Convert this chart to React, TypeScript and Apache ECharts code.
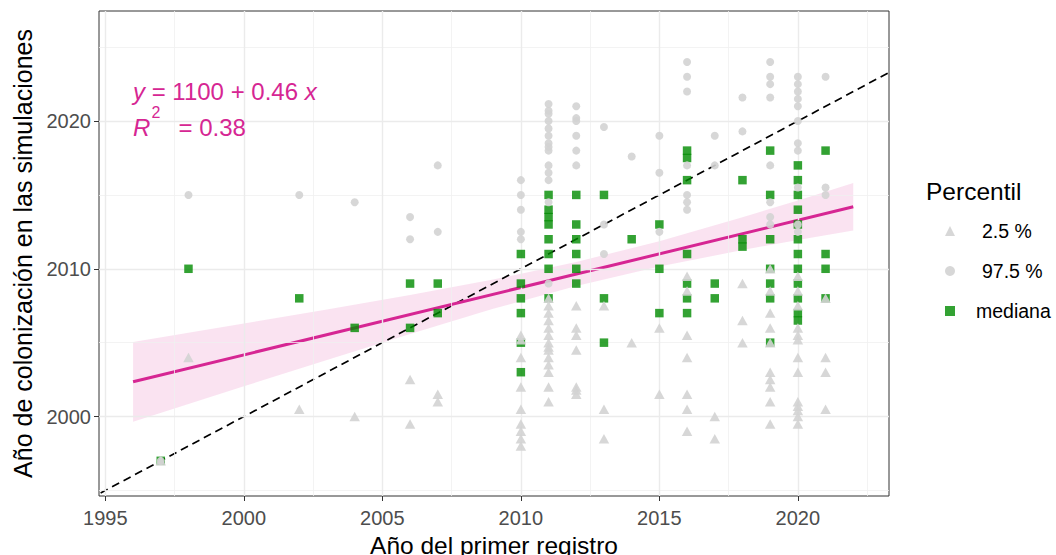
import React, { useEffect, useRef } from "react";
import * as echarts from "echarts";

const FONT = "'Liberation Sans', Arial, Helvetica, sans-serif";
const MAGENTA = "#D62693";
const GREY = "#D3D3D3";
const GREEN = "#008B00";

// axis ticks / grid lines
const xMajor = [1995, 2000, 2005, 2010, 2015, 2020];
const xMinor = [1997.5, 2002.5, 2007.5, 2012.5, 2017.5, 2022.5];
const yMajor = [2000, 2010, 2020];
const yMinor = [1995, 2005, 2015, 2025];

// mediana [year of first record, simulated colonisation year]
const medianPts = [
  [1997, 1997], [1998, 2010], [2002, 2008], [2004, 2006],
  [2006, 2009], [2006, 2006], [2007, 2009], [2007, 2007],
  [2010, 2011], [2010, 2009], [2010, 2008], [2010, 2007], [2010, 2005], [2010, 2003],
  [2011, 2015], [2011, 2014], [2011, 2013.5], [2011, 2013], [2011, 2012], [2011, 2011], [2011, 2010], [2011, 2008],
  [2012, 2015], [2012, 2013], [2012, 2012], [2012, 2011], [2012, 2010], [2012, 2009],
  [2013, 2015], [2013, 2008], [2013, 2005],
  [2014, 2012],
  [2015, 2013], [2015, 2010], [2015, 2007],
  [2016, 2018], [2016, 2017.5], [2016, 2016], [2016, 2011], [2016, 2009], [2016, 2008], [2016, 2007],
  [2017, 2009], [2017, 2008],
  [2018, 2016], [2018, 2012], [2018, 2011.5],
  [2019, 2018], [2019, 2015], [2019, 2012], [2019, 2010], [2019, 2009], [2019, 2008], [2019, 2005],
  [2020, 2017], [2020, 2016], [2020, 2015], [2020, 2014], [2020, 2013], [2020, 2012], [2020, 2011],
  [2020, 2010], [2020, 2009], [2020, 2008], [2020, 2007], [2020, 2006.5],
  [2021, 2018], [2021, 2011], [2021, 2010], [2021, 2008],
];

// 97.5 %
const p975Pts = [
  [1997, 1997], [1998, 2015], [2002, 2015], [2004, 2014.5],
  [2006, 2013.5], [2006, 2012], [2007, 2017], [2007, 2012.5],
  [2010, 2016], [2010, 2015], [2010, 2014], [2010, 2012.5], [2010, 2012],
  [2011, 2021.15], [2011, 2020.7], [2011, 2020.5], [2011, 2020], [2011, 2019.5], [2011, 2019],
  [2011, 2018.5], [2011, 2018.25], [2011, 2018], [2011, 2017], [2011, 2016.5], [2011, 2016],
  [2011, 2014.5], [2011, 2009],
  [2012, 2021], [2012, 2020.2], [2012, 2020], [2012, 2019], [2012, 2018], [2012, 2017],
  [2013, 2019.6], [2013, 2013], [2013, 2011],
  [2014, 2017.6],
  [2015, 2019], [2015, 2016.5], [2015, 2012.5],
  [2016, 2024], [2016, 2023], [2016, 2022], [2016, 2017], [2016, 2015], [2016, 2014.5], [2016, 2014],
  [2017, 2019], [2017, 2017],
  [2018, 2021.6], [2018, 2019.3],
  [2019, 2024], [2019, 2023], [2019, 2022.5], [2019, 2021.6], [2019, 2017], [2019, 2014.5],
  [2019, 2013.5], [2019, 2013],
  [2020, 2023], [2020, 2022.5], [2020, 2022], [2020, 2021.5], [2020, 2021], [2020, 2020],
  [2020, 2018.5], [2020, 2018], [2020, 2015.5], [2020, 2013], [2020, 2012.5],
  [2021, 2023], [2021, 2015.5], [2021, 2015],
];

// 2.5 %
const p025Pts = [
  [1997, 1997], [1998, 2004], [2002, 2000.5], [2004, 2000],
  [2006, 2002.5], [2006, 1999.5], [2007, 2001.5], [2007, 2001],
  [2010, 2005.5], [2010, 2005.2], [2010, 2004], [2010, 2002], [2010, 2000.5], [2010, 1999.5],
  [2010, 1999], [2010, 1998.5], [2010, 1998],
  [2011, 2008], [2011, 2007.5], [2011, 2007], [2011, 2006.5], [2011, 2006], [2011, 2005.5],
  [2011, 2005], [2011, 2004.7], [2011, 2004.5], [2011, 2004], [2011, 2003.5], [2011, 2003],
  [2011, 2002], [2011, 2001],
  [2012, 2007.5], [2012, 2006], [2012, 2005.5], [2012, 2004.5], [2012, 2002], [2012, 2001.8], [2012, 2001.5],
  [2013, 2007.5], [2013, 2000.5], [2013, 1998.5],
  [2014, 2005],
  [2015, 2006], [2015, 2001.5],
  [2016, 2009.5], [2016, 2008.5], [2016, 2005.5], [2016, 2004], [2016, 2001.5], [2016, 2000.5], [2016, 1999],
  [2017, 2000], [2017, 1998.5],
  [2018, 2009], [2018, 2006.5], [2018, 2005],
  [2019, 2010], [2019, 2008.5], [2019, 2007], [2019, 2006], [2019, 2005], [2019, 2003],
  [2019, 2002.5], [2019, 2002], [2019, 2001], [2019, 1999.5],
  [2020, 2009.5], [2020, 2008.5], [2020, 2007.5], [2020, 2006], [2020, 2005.5], [2020, 2005.2],
  [2020, 2004], [2020, 2003], [2020, 2001], [2020, 2000.7], [2020, 2000.4], [2020, 2000], [2020, 1999.5],
  [2021, 2008], [2021, 2004], [2021, 2003], [2021, 2000.5],
];

// fitted line and its confidence band
const fitX = [1996, 2022];
const fitY = [2002.35, 2014.2];
const ribbonX = [1996, 1998, 2000, 2003, 2006, 2009, 2012, 2015, 2018, 2020, 2022];
const ribbonLo = [1999.65, 2000.85, 2002.05, 2003.83, 2005.59, 2007.29, 2008.84, 2010.15, 2011.27, 2011.95, 2012.6];
const ribbonHi = [2005.05, 2005.67, 2006.29, 2007.25, 2008.23, 2009.27, 2010.46, 2011.87, 2013.49, 2014.63, 2015.8];
const identityLine = [1994, 2024];

const legendNames = ["2.5 %", "97.5 %", "mediana"];

export default function App() {
  const ref = useRef<HTMLDivElement>(null);

  useEffect(() => {
    if (!ref.current) return;
    const chart = echarts.init(ref.current, undefined, { renderer: "svg" });

    const majorStyle = { color: "#EBEBEB", width: 1.4, type: "solid" };
    const minorStyle = { color: "#F0F0F0", width: 0.8, type: "solid" };
    const gridLines = [
      ...xMinor.map((v) => ({ xAxis: v, lineStyle: minorStyle })),
      ...yMinor.map((v) => ({ yAxis: v, lineStyle: minorStyle })),
      ...xMajor.map((v) => ({ xAxis: v, lineStyle: majorStyle })),
      ...yMajor.map((v) => ({ yAxis: v, lineStyle: majorStyle })),
    ];

    const option: any = {
      animation: false,
      textStyle: { fontFamily: FONT },
      grid: {
        left: 99,
        top: 11,
        width: 790,
        height: 485,
        show: true,
        borderColor: "#333333",
        borderWidth: 1,
        backgroundColor: "transparent",
        containLabel: false,
        outerBoundsMode: "none",
      },
      xAxis: {
        type: "value",
        min: 1994.77,
        max: 2023.29,
        axisLine: { show: false },
        axisTick: { show: true, customValues: xMajor, length: 5, lineStyle: { color: "#333333", width: 1 } },
        axisLabel: {
          customValues: xMajor,
          formatter: (v: number) => String(v),
          color: "#4D4D4D",
          fontSize: 20,
          margin: 12,
          fontFamily: FONT,
        },
        splitLine: { show: false },
        name: "Año del primer registro",
        nameLocation: "middle",
        nameGap: 30,
        nameTextStyle: { fontSize: 24.5, color: "#000", fontFamily: FONT },
      },
      yAxis: {
        type: "value",
        min: 1994.62,
        max: 2027.45,
        axisLine: { show: false },
        axisTick: { show: true, customValues: yMajor, length: 5, lineStyle: { color: "#333333", width: 1 } },
        axisLabel: {
          customValues: yMajor,
          formatter: (v: number) => String(v),
          color: "#4D4D4D",
          fontSize: 20,
          margin: 8,
          fontFamily: FONT,
        },
        splitLine: { show: false },
        name: "Año de colonización en las simulaciones",
        nameLocation: "middle",
        nameGap: 47,
        nameTextStyle: { fontSize: 25, color: "#000", fontFamily: FONT },
      },
      legend: {
        orient: "vertical",
        left: 940,
        top: 216,
        itemWidth: 10,
        itemHeight: 10,
        itemGap: 20,
        selectedMode: false,
        data: legendNames,
        formatter: (n: string) => (n === "mediana" ? `{b|${n}}` : `{a|${n}}`),
        textStyle: {
          fontSize: 19.5,
          color: "#000",
          fontFamily: FONT,
          lineHeight: 20,
          rich: {
            a: { padding: [0, 0, 0, 22], fontSize: 19.5, color: "#000", fontFamily: FONT, lineHeight: 20 },
            b: { padding: [0, 0, 0, 16], fontSize: 19.5, color: "#000", fontFamily: FONT, lineHeight: 20 },
          },
        },
      },
      graphic: [
        {
          type: "text",
          x: 926,
          y: 191,
          silent: true,
          style: { text: "Percentil", fontSize: 24.5, fontFamily: FONT, fill: "#000", verticalAlign: "middle", align: "left" },
        },
        {
          type: "text",
          x: 133,
          y: 91,
          silent: true,
          z: 100,
          style: {
            text: "{i|y} = 1100 + 0.46 {i|x}",
            fontSize: 24,
            lineHeight: 22,
            fontFamily: FONT,
            fill: MAGENTA,
            verticalAlign: "middle",
            align: "left",
            rich: { i: { fontStyle: "italic", fontSize: 24, lineHeight: 22, fontFamily: FONT, fill: MAGENTA } },
          },
        },
        {
          type: "text",
          x: 133,
          y: 127,
          silent: true,
          z: 100,
          style: { text: "R", fontStyle: "italic", fontSize: 24, lineHeight: 22, fontFamily: FONT, fill: MAGENTA, verticalAlign: "middle", align: "left" },
        },
        {
          type: "text",
          x: 151.5,
          y: 112,
          silent: true,
          z: 100,
          style: { text: "2", fontSize: 16, fontFamily: FONT, fill: MAGENTA, verticalAlign: "middle", align: "left" },
        },
        {
          type: "text",
          x: 178.5,
          y: 127,
          silent: true,
          z: 100,
          style: { text: "= 0.38", fontSize: 24, lineHeight: 22, fontFamily: FONT, fill: MAGENTA, verticalAlign: "middle", align: "left" },
        },
      ],
      series: [
        {
          type: "scatter",
          name: "gridlines",
          data: [],
          z: 1,
          silent: true,
          markLine: {
            silent: true,
            symbol: ["none", "none"],
            label: { show: false },
            emphasis: { disabled: true },
            data: gridLines,
          },
        },
        {
          type: "custom",
          name: "ribbon",
          z: 2,
          silent: true,
          clip: true,
          data: [[ribbonX[0], ribbonLo[0]]],
          renderItem: (_params: any, api: any) => {
            const pts: number[][] = [];
            for (let i = 0; i < ribbonX.length; i++) pts.push(api.coord([ribbonX[i], ribbonHi[i]]));
            for (let i = ribbonX.length - 1; i >= 0; i--) pts.push(api.coord([ribbonX[i], ribbonLo[i]]));
            return {
              type: "polygon",
              shape: { points: pts },
              style: { fill: MAGENTA, opacity: 0.13 },
              silent: true,
            };
          },
        },
        {
          type: "line",
          name: "identidad",
          z: 3,
          silent: true,
          clip: true,
          symbol: "none",
          data: identityLine.map((v) => [v, v]),
          lineStyle: { color: "#000", width: 1.7, type: [8, 5] },
        },
        {
          type: "line",
          name: "ajuste",
          z: 4,
          silent: true,
          symbol: "none",
          data: fitX.map((x, i) => [x, fitY[i]]),
          lineStyle: { color: MAGENTA, width: 3 },
        },
        {
          type: "scatter",
          name: "mediana",
          z: 5,
          symbol: "rect",
          symbolSize: 8.5,
          data: medianPts,
          itemStyle: { color: GREEN, opacity: 0.8 },
        },
        {
          type: "scatter",
          name: "97.5 %",
          z: 6,
          symbol: "circle",
          symbolSize: 8,
          data: p975Pts,
          itemStyle: { color: GREY, opacity: 0.9 },
        },
        {
          type: "scatter",
          name: "2.5 %",
          z: 7,
          symbol: "triangle",
          symbolSize: [10.5, 9.5],
          data: p025Pts,
          itemStyle: { color: GREY, opacity: 0.9 },
        },
      ],
    };

    chart.setOption(option);
    return () => chart.dispose();
  }, []);

  return (
    <div
      ref={ref}
      style={{ position: "absolute", left: 0, top: 0, width: 1056, height: 555, background: "#fff" }}
    />
  );
}
